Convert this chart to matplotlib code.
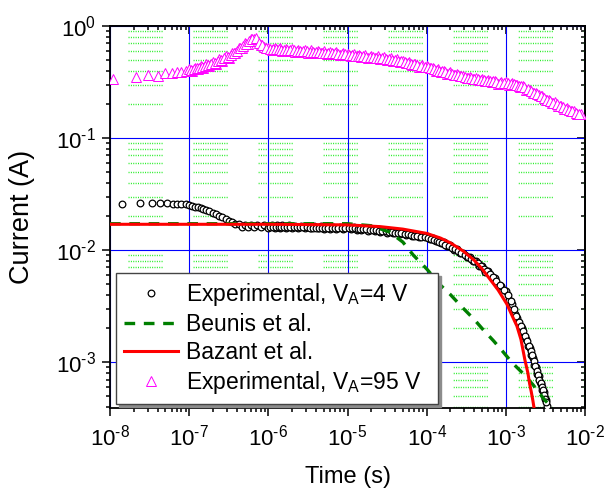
import matplotlib
matplotlib.use("Agg")
import matplotlib.pyplot as plt
from matplotlib.ticker import LogLocator, NullFormatter, FixedFormatter

plt.rcParams['font.family'] = ['Liberation Sans', 'DejaVu Sans']
plt.rcParams['mathtext.fontset'] = 'custom'
plt.rcParams['mathtext.rm'] = 'Liberation Sans'
plt.rcParams['mathtext.it'] = 'Liberation Sans:italic'
plt.rcParams['axes.unicode_minus'] = False

# sampling points within one decade (two interleaved sweeps)
mult = [1.0, 1.1, 1.2, 1.3, 1.4, 1.5, 1.65, 1.8, 2.0, 2.2, 2.4, 2.6, 2.9, 3.2, 3.5,
        3.8, 4.2, 4.6, 5.0, 5.5, 6.0, 6.6, 7.2, 8.0, 8.8]
mult_b = [1.05, 1.15, 1.25, 1.35, 1.45, 1.57, 1.72, 1.9, 2.1, 2.3, 2.5, 2.75, 3.05, 3.35,
          3.65, 4.0, 4.4, 4.8, 5.25, 5.75, 6.3, 6.9, 7.6, 8.4, 9.4]
mult_fine = [1.0, 1.1, 1.2, 1.3, 1.4, 1.5, 1.6, 1.7, 1.8, 1.9, 2.0, 2.1, 2.2, 2.3, 2.4,
             2.5, 2.6, 2.7, 2.8, 2.9, 3.0, 3.1, 3.2, 3.3]
mult_fine_b = [1.05, 1.15, 1.25, 1.35, 1.45, 1.55, 1.65, 1.75, 1.85, 1.95, 2.05, 2.15,
               2.25, 2.35, 2.45, 2.55, 2.65, 2.75, 2.85, 2.95, 3.05, 3.15, 3.25]

# experimental current, V_A = 4 V
t_exp4 = ([1.4e-8, 2.4e-8, 3.4e-8, 4.3e-8, 5.3e-8, 6.2e-8, 7.1e-8, 8.0e-8, 9.0e-8]
          + [m * 1e-7 for m in mult] + [m * 1e-6 for m in mult]
          + [m * 1e-5 for m in mult] + [m * 1e-4 for m in mult]
          + [m * 1e-3 for m in mult_fine])
i_exp4 = [0.0258, 0.0262, 0.0262, 0.0262, 0.0262, 0.0260, 0.0260, 0.0258, 0.0257,
          # 1e-7 .. 1e-6
          0.0253, 0.0249, 0.0245, 0.0241, 0.0237, 0.0233, 0.0227, 0.0222, 0.0214, 0.0208,
          0.0202, 0.0196, 0.0189, 0.0182, 0.0177, 0.0172, 0.0170, 0.0162, 0.0168, 0.0160,
          0.0168, 0.0160, 0.0167, 0.0160, 0.0167,
          # 1e-6 .. 1e-5
          0.0159, 0.0167, 0.0159, 0.0166, 0.0158, 0.0166, 0.0158, 0.0166, 0.0158, 0.0165,
          0.0157, 0.0165, 0.0157, 0.0164, 0.0156, 0.0164, 0.0156, 0.0163, 0.0155, 0.0163,
          0.0155, 0.0162, 0.0154, 0.0162, 0.0154,
          # 1e-5 .. 1e-4
          0.0161, 0.0153, 0.0160, 0.0152, 0.0158, 0.0151, 0.0157, 0.0149, 0.0155, 0.0147,
          0.0153, 0.0145, 0.0151, 0.0143, 0.0148, 0.0141, 0.0146, 0.0139, 0.0143, 0.0136,
          0.0141, 0.0134, 0.0138, 0.0131, 0.0135,
          # 1e-4 .. 1e-3
          0.0134, 0.0125, 0.0129, 0.0120, 0.0123, 0.0115, 0.0117, 0.0108, 0.0110, 0.0100,
          0.0103, 0.0095, 0.0095, 0.0087, 0.0087, 0.0080, 0.0080, 0.0072, 0.0072, 0.0064,
          0.0065, 0.0057, 0.0056, 0.0049, 0.0048,
          # 1e-3 .. 3.3e-3
          0.0043, 0.0036, 0.0033, 0.0027, 0.0025, 0.0021, 0.0020, 0.0017, 0.0016, 0.0014,
          0.00135, 0.00117, 0.0011, 0.00095, 0.0009, 0.00078, 0.00075, 0.00066, 0.00064,
          0.00057, 0.00054, 0.00048, 0.00046, 0.00041]
t_exp4_b = ([m * 1e-6 for m in mult_b] + [m * 1e-5 for m in mult_b]
            + [m * 1e-4 for m in mult_b] + [m * 1e-3 for m in mult_fine_b])
i_exp4_b = [0.0162, 0.0162, 0.0162, 0.0162, 0.0161, 0.0161, 0.0161, 0.0161, 0.0161, 0.0160,
            0.0160, 0.0160, 0.0160, 0.0159, 0.0159, 0.0159, 0.0159, 0.0158, 0.0158, 0.0158,
            0.0158, 0.0157, 0.0157, 0.0157, 0.0157,
            0.0157, 0.0156, 0.0156, 0.0155, 0.0154, 0.0154, 0.0153, 0.0152, 0.0151, 0.0150,
            0.0149, 0.0148, 0.0147, 0.0146, 0.0145, 0.0143, 0.0142, 0.0141, 0.0139, 0.0138,
            0.0137, 0.0135, 0.0134, 0.0132, 0.0130,
            0.0129, 0.0126, 0.0124, 0.0121, 0.0119, 0.0116, 0.0112, 0.0109, 0.0105, 0.0102,
            0.0098, 0.0095, 0.0091, 0.0087, 0.0084, 0.0080, 0.0076, 0.0072, 0.0068, 0.0065,
            0.0061, 0.0057, 0.0053, 0.0049, 0.0044,
            0.0040, 0.0035, 0.0030, 0.0026, 0.0023, 0.0021, 0.0019, 0.0017, 0.00155, 0.0014,
            0.00127, 0.00115, 0.00103, 0.00093, 0.00084, 0.00077, 0.0007, 0.00065, 0.0006,
            0.00056, 0.00051, 0.00047, 0.00044]

# Beunis et al. model
t_beunis = [1e-8, 1e-5, 2e-5, 3.4e-5, 5e-5, 6.8e-5, 1e-4, 1.48e-4, 2e-4, 2.8e-4, 4e-4,
            5.2e-4, 7e-4, 9.2e-4, 1.2e-3, 1.6e-3, 2.2e-3, 3.1e-3, 3.5e-3]
i_beunis = [0.0172, 0.0172, 0.0165, 0.0145, 0.0118, 0.0090, 0.0068, 0.0049, 0.0040, 0.0031,
            0.0024, 0.00194, 0.00155, 0.00124, 0.00099, 0.00081, 0.00063, 0.00046, 0.00042]

# Bazant et al. model
t_bazant = [1e-8, 1e-6, 1e-5, 2.6e-5, 5e-5, 1e-4, 1.5e-4, 2e-4, 2.9e-4, 4e-4, 5e-4, 6.3e-4,
            8e-4, 1.03e-3, 1.2e-3, 1.38e-3, 1.55e-3, 1.74e-3, 1.9e-3, 2.0e-3, 2.1e-3,
            2.2e-3, 2.3e-3]
i_bazant = [0.0170, 0.0170, 0.0168, 0.0162, 0.0154, 0.0141, 0.0128, 0.0116, 0.0098, 0.0081,
            0.0068, 0.0055, 0.0044, 0.0033, 0.0026, 0.0021, 0.0016, 0.00105, 0.0008, 0.00064,
            0.00054, 0.00045, 0.00037]

# experimental current, V_A = 95 V
t_exp95 = ([1.1e-8, 2.1e-8, 3.0e-8, 4.0e-8, 5.0e-8, 6.0e-8, 7.0e-8, 8.0e-8, 9.0e-8]
           + [m * 1e-7 for m in mult] + [m * 1e-6 for m in mult]
           + [m * 1e-5 for m in mult] + [m * 1e-4 for m in mult]
           + [m * 1e-3 for m in mult])
i_exp95 = [0.336, 0.353, 0.365, 0.360, 0.378, 0.380, 0.392, 0.388, 0.395,
           # 1e-7 .. 1e-6
           0.410, 0.400, 0.425, 0.410, 0.440, 0.420, 0.455, 0.440, 0.480, 0.460,
           0.510, 0.490, 0.540, 0.520, 0.580, 0.570, 0.640, 0.630, 0.700, 0.690,
           0.760, 0.760, 0.740, 0.670, 0.650,
           # 1e-6 .. 1e-5
           0.640, 0.610, 0.635, 0.605, 0.630, 0.600, 0.625, 0.595, 0.620, 0.590,
           0.615, 0.585, 0.610, 0.580, 0.605, 0.575, 0.600, 0.570, 0.595, 0.565,
           0.590, 0.560, 0.585, 0.555, 0.575,
           # 1e-5 .. 1e-4
           0.565, 0.540, 0.560, 0.535, 0.555, 0.530, 0.550, 0.520, 0.540, 0.515,
           0.535, 0.510, 0.525, 0.500, 0.515, 0.490, 0.505, 0.480, 0.490, 0.465,
           0.475, 0.450, 0.460, 0.435, 0.445,
           # 1e-4 .. 1e-3
           0.440, 0.420, 0.425, 0.400, 0.410, 0.390, 0.395, 0.375, 0.385, 0.365,
           0.375, 0.355, 0.360, 0.345, 0.350, 0.335, 0.345, 0.330, 0.335, 0.320,
           0.330, 0.315, 0.320, 0.305, 0.315,
           # 1e-3 .. 1e-2
           0.315, 0.300, 0.310, 0.295, 0.300, 0.285, 0.290, 0.270, 0.270, 0.255,
           0.255, 0.240, 0.235, 0.220, 0.220, 0.205, 0.210, 0.195, 0.195, 0.183,
           0.185, 0.173, 0.175, 0.163, 0.165]
t_exp95_b = ([m * 1e-7 for m in mult_b] + [m * 1e-6 for m in mult_b]
             + [m * 1e-5 for m in mult_b] + [m * 1e-4 for m in mult_b]
             + [m * 1e-3 for m in mult_b[:-1]])
i_exp95_b = [0.405, 0.410, 0.418, 0.425, 0.430, 0.437, 0.447, 0.460, 0.470, 0.485,
             0.500, 0.515, 0.530, 0.550, 0.575, 0.600, 0.630, 0.665, 0.695, 0.730,
             0.760, 0.785, 0.710, 0.670, 0.640,
             0.625, 0.622, 0.620, 0.618, 0.615, 0.612, 0.610, 0.607, 0.605, 0.600,
             0.600, 0.597, 0.595, 0.590, 0.590, 0.585, 0.583, 0.580, 0.578, 0.575,
             0.572, 0.570, 0.567, 0.565, 0.560,
             0.553, 0.548, 0.545, 0.542, 0.540, 0.537, 0.533, 0.528, 0.525, 0.520,
             0.518, 0.513, 0.508, 0.503, 0.500, 0.495, 0.490, 0.485, 0.478, 0.470,
             0.462, 0.455, 0.448, 0.440, 0.432,
             0.428, 0.420, 0.412, 0.405, 0.400, 0.393, 0.386, 0.380, 0.373, 0.367,
             0.362, 0.357, 0.352, 0.347, 0.343, 0.340, 0.337, 0.333, 0.330, 0.326,
             0.323, 0.320, 0.316, 0.313, 0.310,
             0.308, 0.305, 0.302, 0.298, 0.294, 0.290, 0.283, 0.272, 0.263, 0.254,
             0.245, 0.236, 0.227, 0.219, 0.213, 0.207, 0.200, 0.195, 0.189, 0.183,
             0.178, 0.173, 0.168, 0.164]

x_ticks = [1e-8, 1e-7, 1e-6, 1e-5, 1e-4, 1e-3, 1e-2]
x_labels = [r'$\mathregular{10^{\text{-}8}}$', r'$\mathregular{10^{\text{-}7}}$',
            r'$\mathregular{10^{\text{-}6}}$', r'$\mathregular{10^{\text{-}5}}$',
            r'$\mathregular{10^{\text{-}4}}$', r'$\mathregular{10^{\text{-}3}}$',
            r'$\mathregular{10^{\text{-}2}}$']
y_ticks = [1e-3, 1e-2, 1e-1, 1e0]
y_labels = [r'$\mathregular{10^{\text{-}3}}$', r'$\mathregular{10^{\text{-}2}}$',
            r'$\mathregular{10^{\text{-}1}}$', r'$\mathregular{10^{0}}$']

fig = plt.figure(figsize=(6.05, 4.9), dpi=100)
ax = fig.add_axes([110 / 605, 82 / 490, 475 / 605, 382 / 490])

circle_style = dict(linestyle='none', marker='o', markersize=4.8, markerfacecolor='white',
                    markeredgecolor='black', markeredgewidth=0.9, zorder=3)
tri_style = dict(linestyle='none', marker='^', markersize=6.6, markerfacecolor='white',
                 markeredgecolor='#ff00ff', markeredgewidth=0.7, zorder=3)

ax.plot(t_exp4 + t_exp4_b, i_exp4 + i_exp4_b,
        label=r'Experimental, V$_\mathregular{A}$=4 V', **circle_style)
ax.plot(t_beunis, i_beunis, color='#007f00', linewidth=2.4, linestyle=(0, (3.2, 2.6)),
        label='Beunis et al.', zorder=4)
ax.plot(t_bazant, i_bazant, color='#ff0000', linewidth=2.2,
        label='Bazant et al.', zorder=5)
ax.plot(t_exp95 + t_exp95_b, i_exp95 + i_exp95_b,
        label=r'Experimental, V$_\mathregular{A}$=95 V', **tri_style)

ax.set_xscale('log')
ax.set_yscale('log')
ax.set_xlim(1e-8, 1e-2)
ax.set_ylim(3.9e-4, 1)
ax.set_xticks(x_ticks)
ax.set_yticks(y_ticks)
ax.xaxis.set_major_formatter(FixedFormatter(x_labels))
ax.yaxis.set_major_formatter(FixedFormatter(y_labels))
ax.xaxis.set_minor_locator(LogLocator(base=10, subs=range(2, 10), numticks=20))
ax.yaxis.set_minor_locator(LogLocator(base=10, subs=range(2, 10), numticks=20))
ax.xaxis.set_minor_formatter(NullFormatter())
ax.yaxis.set_minor_formatter(NullFormatter())

# blue major grid
ax.set_axisbelow(True)
ax.grid(which='major', color='#0000ff', linewidth=0.8, zorder=0)

# short dotted green rows at the minor y positions
# (Agg takes at most 16 dash pairs)
px = 0.72
dots = []
for k in range(15):
    dots += [px, 1.36 * px]
dots[-1] = 31 * px
for dec in [1e-4, 1e-3, 1e-2, 1e-1]:
    for k in range(2, 10):
        y = k * dec
        if y < 3.9e-4:
            continue
        ax.axhline(y, color='#22ee22', linewidth=1.0, zorder=0.5,
                   linestyle=(47 * px, tuple(dots)))

ax.tick_params(which='both', top=False, right=False, labelsize=16, width=1.1)
ax.tick_params(which='major', length=5.8)
ax.tick_params(which='minor', length=3.0)
ax.tick_params(axis='x', which='both', direction='out', pad=6)
ax.tick_params(axis='y', which='both', direction='out', pad=4)
for spine in ax.spines.values():
    spine.set_linewidth(1.3)

# ticks on the opposite axes point inward
secx = ax.secondary_xaxis('top')
secx.set_xticks(x_ticks)
secx.xaxis.set_minor_locator(LogLocator(base=10, subs=range(2, 10), numticks=20))
secx.xaxis.set_minor_formatter(NullFormatter())
secx.tick_params(which='both', direction='in', labeltop=False, width=1.1)
secx.tick_params(which='major', length=5.8)
secx.tick_params(which='minor', length=3.0)
secx.spines['top'].set_linewidth(1.3)
secy = ax.secondary_yaxis('right')
secy.set_yticks(y_ticks)
secy.yaxis.set_minor_locator(LogLocator(base=10, subs=range(2, 10), numticks=20))
secy.yaxis.set_minor_formatter(NullFormatter())
secy.tick_params(which='both', direction='in', labelright=False, width=1.1)
secy.tick_params(which='major', length=5.8)
secy.tick_params(which='minor', length=3.0)
secy.spines['right'].set_linewidth(1.3)

ax.set_xlabel('Time (s)', fontsize=17, labelpad=11)
ax.set_ylabel('Current (A)', fontsize=19.5)
ax.yaxis.set_label_coords(-0.158, 0.5)

leg = ax.legend(loc='lower left', bbox_to_anchor=(6 / 475, 4 / 382, 322 / 475, 131 / 382),
                mode='expand', borderaxespad=0, fontsize=16.5, frameon=True,
                fancybox=False, edgecolor='#444444', framealpha=1, handlelength=2.35,
                handletextpad=0.35, labelspacing=0.22, borderpad=0.35,
                shadow={'color': '0.55', 'alpha': 1.0})
leg.get_frame().set_linewidth(1.0)
leg.set_zorder(10)

fig.savefig('out.png', dpi=100)
